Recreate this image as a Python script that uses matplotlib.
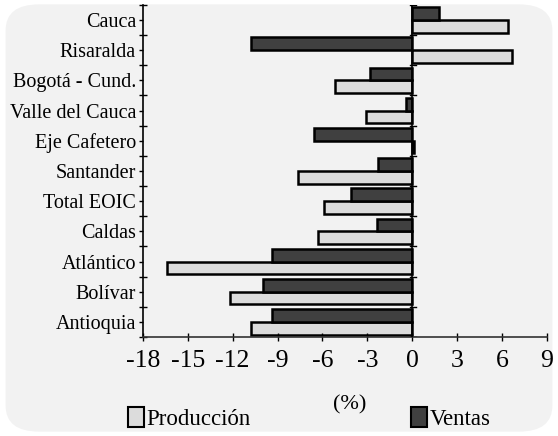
import numpy as np
import matplotlib.pyplot as plt
from matplotlib.patches import FancyBboxPatch, Patch

plt.rcParams['font.family'] = ['Liberation Serif', 'DejaVu Serif']

# categories from bottom to top
regiones = ['Antioquia', 'Bolívar', 'Atlántico', 'Caldas', 'Total EOIC', 'Santander',
            'Eje Cafetero', 'Valle del Cauca', 'Bogotá - Cund.', 'Risaralda', 'Cauca']
produccion = [-10.8, -12.2, -16.4, -6.3, -5.9, -7.6, 0.1, -3.1, -5.15, 6.7, 6.4]
ventas = [-9.4, -10.0, -9.4, -2.35, -4.1, -2.3, -6.55, -0.4, -2.8, -10.8, 1.8]
xticks = [-18, -15, -12, -9, -6, -3, 0, 3, 6, 9]

fig = plt.figure(figsize=(5.58, 4.36), dpi=100)
bg = FancyBboxPatch((0.01, 0.01), 0.98, 0.98, boxstyle='round,pad=0,rounding_size=0.06',
                    transform=fig.transFigure, facecolor='#f2f2f2', edgecolor='none', zorder=-10)
fig.patches.append(bg)

ax = fig.add_axes([0.256, 0.227, 0.724, 0.762])
ax.set_facecolor('none')

y = np.arange(len(regiones))
h = 0.42
ax.barh(y - h / 2, produccion, height=h, color='#dcdcdc', edgecolor='black', linewidth=1.8,
        label='Producción')
ax.barh(y + h / 2, ventas, height=h, color='#404040', edgecolor='black', linewidth=1.8,
        label='Ventas')

ax.set_xlim(-18, 9)
ax.set_ylim(-0.5, len(regiones) - 0.5)
ax.set_xticks(xticks)
ax.set_xticklabels([str(v) for v in xticks], fontsize=18.5)
ax.set_yticks(y)
ax.set_yticklabels(regiones, fontsize=14.5)
ax.set_yticks(np.arange(-0.5, len(regiones)), minor=True)
ax.tick_params(axis='y', which='major', length=3, width=1, pad=2)
ax.tick_params(axis='y', which='minor', length=6, width=1, direction='inout')
ax.tick_params(axis='x', length=6, width=1, direction='inout', pad=6)

for s in ['top', 'right']:
    ax.spines[s].set_visible(False)
ax.spines['left'].set_linewidth(1.2)
ax.spines['bottom'].set_linewidth(1.2)
ax.spines['bottom'].set_color('#333333')

# vertical axis line at zero with small ticks
ax.axvline(0, color='black', linewidth=1.2, zorder=3)
for yy in np.arange(-0.5, len(regiones)):
    ax.plot([-0.15, 0.25], [yy, yy], color='black', linewidth=1, zorder=3)

fig.text(0.626, 0.071, '(%)', fontsize=16, ha='center', va='center')

leg1 = fig.legend(handles=[Patch(facecolor='#dcdcdc', edgecolor='black', linewidth=1.5)],
                  labels=['Producción'], loc='center left', bbox_to_anchor=(0.229, 0.041),
                  frameon=False, fontsize=16.5, handlelength=0.7, handleheight=1.0,
                  handletextpad=0.1, borderpad=0, borderaxespad=0)
leg2 = fig.legend(handles=[Patch(facecolor='#404040', edgecolor='black', linewidth=1.5)],
                  labels=['Ventas'], loc='center left', bbox_to_anchor=(0.737, 0.041),
                  frameon=False, fontsize=16.5, handlelength=0.7, handleheight=1.0,
                  handletextpad=0.1, borderpad=0, borderaxespad=0)

fig.savefig('out.png', dpi=100)
